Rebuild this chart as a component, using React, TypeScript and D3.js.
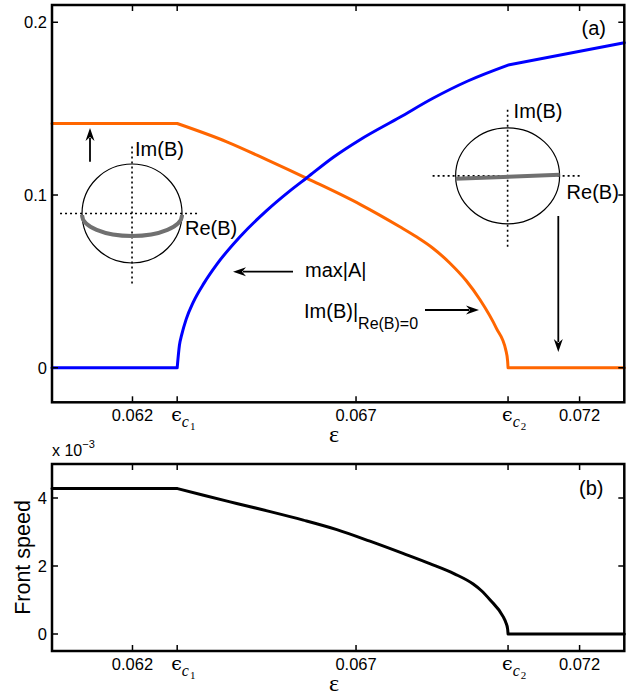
import React from "react"
import * as d3 from "d3"

const W = 638
const H = 695

// panel (a): max|A| (blue curve)
const epsA = [0.0602, 0.063, 0.06305, 0.0631, 0.0632, 0.06336, 0.0636, 0.06389, 0.06441, 0.065, 0.0655, 0.0659, 0.0665, 0.06709, 0.06798, 0.06872, 0.0695, 0.0704, 0.073]
const maxA = [0, 0, 0.013, 0.019, 0.028, 0.038, 0.049, 0.06, 0.076, 0.091, 0.102, 0.11, 0.122, 0.132, 0.145, 0.156, 0.166, 0.1752, 0.1881]

// panel (a): Im(B) at Re(B)=0 (orange curve)
const epsB = [0.0602, 0.063, 0.06411, 0.065, 0.06597, 0.06709, 0.06798, 0.06835, 0.06872, 0.06909, 0.06947, 0.06977, 0.07014, 0.07035, 0.07039, 0.0704, 0.073]
const imB = [0.1414, 0.1414, 0.1308, 0.1205, 0.1088, 0.0946, 0.0816, 0.0758, 0.0692, 0.0608, 0.0502, 0.0395, 0.0228, 0.0102, 0.004, 0, 0]

// panel (b): front speed (x 1e-3)
const epsV = [0.0602, 0.063, 0.06359, 0.06433, 0.06508, 0.06582, 0.06657, 0.06731, 0.06805, 0.06865, 0.0692, 0.06962, 0.0698, 0.07, 0.07029, 0.07035, 0.07039, 0.0704, 0.073]
const speed = [4.28, 4.28, 4.08, 3.84, 3.6, 3.35, 3.07, 2.73, 2.37, 2.07, 1.77, 1.47, 1.28, 1.0, 0.51, 0.34, 0.15, 0, 0]

// critical points where the curves have kinks
const kinks = [0.063, 0.0704]

const xDomain = [0.0602, 0.073]
const xTickVals = [0.062, 0.063, 0.067, 0.0704, 0.072]
const xTickLabels = ["0.062", "ϵ|c|1", "0.067", "ϵ|c|2", "0.072"]

const yDomainA = [-0.02, 0.21]
const yTicksA = [0, 0.1, 0.2]
const yTickLabelsA = ["0", "0.1", "0.2"]

const yDomainB = [-0.5, 5]
const yTicksB = [0, 2, 4]
const yTickLabelsB = ["0", "2", "4"]

const sans = "'Liberation Sans', Arial, sans-serif"
const serif = "'Liberation Serif', 'Times New Roman', serif"

const PA = { left: 52, right: 624.3, top: 5, bottom: 402.3 }
const PB = { left: 52, right: 624.3, top: 464, bottom: 651 }

const x = d3.scaleLinear().domain(xDomain).range([PA.left, PA.right])
const yA = d3.scaleLinear().domain(yDomainA).range([PA.bottom, PA.top])
const yB = d3.scaleLinear().domain(yDomainB).range([PB.bottom, PB.top])

// split at kinks, smooth each piece
function kinkedPath(xs: number[], ys: number[], y: d3.ScaleLinear<number, number>) {
  const pts = xs.map((e, i) => [e, ys[i]] as [number, number])
  const line = d3
    .line<[number, number]>()
    .x(d => x(d[0]))
    .y(d => y(d[1]))
    .curve(d3.curveMonotoneX)
  const pieces: [number, number][][] = []
  let cur: [number, number][] = []
  pts.forEach(p => {
    cur.push(p)
    if (kinks.some(k => Math.abs(k - p[0]) < 1e-7) && cur.length > 1) {
      pieces.push(cur)
      cur = [p]
    }
  })
  if (cur.length > 1) pieces.push(cur)
  return pieces.map(pc => line(pc)).join("")
}

const Arrow = ({ x1, y1, x2, y2 }: { x1: number; y1: number; x2: number; y2: number }) => {
  const a = Math.atan2(y2 - y1, x2 - x1)
  const L = 13
  const w = 4.5
  const bx = x2 - L * Math.cos(a)
  const by = y2 - L * Math.sin(a)
  const px = -Math.sin(a) * w
  const py = Math.cos(a) * w
  return (
    <g>
      <line x1={x1} y1={y1} x2={bx + 3 * Math.cos(a)} y2={by + 3 * Math.sin(a)} stroke="black" strokeWidth={1.8} />
      <path d={`M${x2},${y2}L${bx + px},${by + py}L${bx + L * 0.3 * Math.cos(a)},${by + L * 0.3 * Math.sin(a)}L${bx - px},${by - py}Z`} fill="black" />
    </g>
  )
}

const XTickLabel = ({ label, xp, base }: { label: string; xp: number; base: number }) => {
  if (label.includes("|")) {
    const [e, c, n] = label.split("|")
    return (
      <text x={xp - 6} y={base} fontFamily="'DejaVu Serif', serif" fontSize={19}>
        {e}
        <tspan fontFamily={serif} fontStyle="italic" fontSize={16} dy={6}>{c}</tspan>
        <tspan fontFamily={serif} fontSize={11} dy={3} dx={1}>{n}</tspan>
      </text>
    )
  }
  return (
    <text x={xp} y={base} textAnchor="middle" fontFamily={sans} fontSize={16.5}>{label}</text>
  )
}

const Frame = ({ P, y, ticks, labels }: any) => (
  <g>
    {xTickVals.map((v, i) => (
      <g key={"x" + i}>
        <line x1={x(v)} x2={x(v)} y1={P.bottom} y2={P.bottom - 6} stroke="black" strokeWidth={1.5} />
        <line x1={x(v)} x2={x(v)} y1={P.top} y2={P.top + 6} stroke="black" strokeWidth={1.5} />
        <XTickLabel label={xTickLabels[i]} xp={x(v)} base={P.bottom + 19} />
      </g>
    ))}
    {ticks.map((v: number, i: number) => (
      <g key={"y" + i}>
        <line x1={P.left} x2={P.left + 6} y1={y(v)} y2={y(v)} stroke="black" strokeWidth={1.5} />
        <line x1={P.right} x2={P.right - 6} y1={y(v)} y2={y(v)} stroke="black" strokeWidth={1.5} />
        <text x={P.left - 5} y={y(v)} dy="0.36em" textAnchor="end" fontFamily={sans} fontSize={16.5}>{labels[i]}</text>
      </g>
    ))}
    <rect x={P.left} y={P.top} width={P.right - P.left} height={P.bottom - P.top} fill="none" stroke="black" strokeWidth={2.5} />
    <text x={(P.left + P.right) / 2 - 4} y={P.bottom + 40} textAnchor="middle" fontFamily={serif} fontSize={24}>ε</text>
  </g>
)

const dotted = { stroke: "black", strokeWidth: 1.6, strokeDasharray: "2,3" }

export default function App() {
  // annotation anchors, in data units of panel (a)
  const lc = { x: x(0.06199), y: yA(0.0893) }
  const rc = { x: x(0.07039), y: yA(0.1111) }

  return (
    <div style={{ position: "absolute", left: 0, top: 0 }}>
      <svg width={W} height={H} style={{ display: "block", background: "white" }}>
        {/* panel (a) */}
        <path d={kinkedPath(epsB, imB, yA)} fill="none" stroke="#ff6600" strokeWidth={3} strokeLinejoin="round" strokeLinecap="round" />
        <path d={kinkedPath(epsA, maxA, yA)} fill="none" stroke="#0000ff" strokeWidth={3} strokeLinejoin="round" strokeLinecap="round" />

        {/* left circle: Re(B) arc */}
        <ellipse cx={lc.x} cy={lc.y} rx={50} ry={49.5} fill="none" stroke="black" strokeWidth={1.2} />
        <line x1={lc.x} x2={lc.x} y1={lc.y - 67} y2={lc.y + 72} {...dotted} />
        <line x1={lc.x - 72} x2={lc.x + 68} y1={lc.y} y2={lc.y} {...dotted} />
        <path d={`M${lc.x - 50},${lc.y + 1.5}A50,21 0 0 0 ${lc.x + 50},${lc.y + 1.5}`} fill="none" stroke="#707070" strokeWidth={4} />
        <text x={lc.x + 3} y={lc.y - 57} fontFamily={sans} fontSize={20}>Im(B)</text>
        <text x={lc.x + 53} y={lc.y + 22} fontFamily={sans} fontSize={20}>Re(B)</text>
        <Arrow x1={90} y1={161.7} x2={90} y2={128} />

        {/* right circle: flat line */}
        <ellipse cx={rc.x} cy={rc.y} rx={52} ry={48} fill="none" stroke="black" strokeWidth={1.2} />
        <line x1={rc.x} x2={rc.x} y1={rc.y - 66} y2={rc.y + 71} {...dotted} />
        <line x1={rc.x - 75} x2={rc.x + 73} y1={rc.y} y2={rc.y} {...dotted} />
        <line x1={rc.x - 52} y1={rc.y + 3} x2={rc.x + 52} y2={rc.y - 1} stroke="#707070" strokeWidth={4} />
        <text x={rc.x + 6} y={rc.y - 58} fontFamily={sans} fontSize={20}>Im(B)</text>
        <text x={rc.x + 59} y={rc.y + 23} fontFamily={sans} fontSize={20}>Re(B)</text>
        <Arrow x1={558.3} y1={216} x2={558.3} y2={352} />

        <text x={305} y={277} fontFamily={sans} fontSize={20}>max|A|</text>
        <Arrow x1={293} y1={271.7} x2={233} y2={271.7} />
        <text x={304} y={318.3} fontFamily={sans} fontSize={20}>
          Im(B)|<tspan fontSize={16} dy={11}>Re(B)=0</tspan>
        </text>
        <Arrow x1={425} y1={310} x2={479} y2={310} />
        <text x={581.5} y={35} fontFamily={sans} fontSize={20}>(a)</text>

        <Frame P={PA} y={yA} ticks={yTicksA} labels={yTickLabelsA} />

        {/* panel (b) */}
        <path d={kinkedPath(epsV, speed, yB)} fill="none" stroke="black" strokeWidth={3} strokeLinejoin="round" strokeLinecap="round" />
        <text x={579} y={495} fontFamily={sans} fontSize={20}>(b)</text>
        <Frame P={PB} y={yB} ticks={yTicksB} labels={yTickLabelsB} />
        <text x={52} y={456} fontFamily={sans} fontSize={16}>
          x 10<tspan fontSize={11} dy={-8}>−3</tspan>
        </text>
        <text transform={`translate(30,${(PB.top + PB.bottom) / 2}) rotate(-90)`} textAnchor="middle" fontFamily={sans} fontSize={21.5}>
          Front speed
        </text>
      </svg>
    </div>
  )
}
